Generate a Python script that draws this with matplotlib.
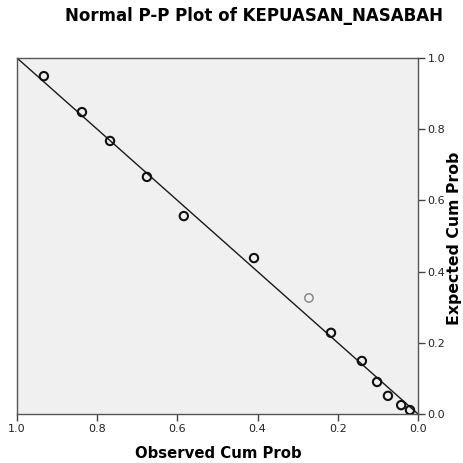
import matplotlib
matplotlib.use("Agg")
import matplotlib.pyplot as plt

observed = [0.933, 0.838, 0.768, 0.676, 0.584, 0.409, 0.272, 0.217, 0.140, 0.102, 0.075, 0.042, 0.020]
expected = [0.949, 0.848, 0.767, 0.666, 0.556, 0.438, 0.326, 0.228, 0.149, 0.090, 0.051, 0.025, 0.011]
light = [False, False, False, False, False, False, True, False, False, False, False, False, False]
ticks = [0.0, 0.2, 0.4, 0.6, 0.8, 1.0]
tick_labels = ["0.0", "0.2", "0.4", "0.6", "0.8", "1.0"]

plt.rcParams['font.family'] = ['DejaVu Sans']

fig = plt.figure(figsize=(4.63, 4.63), dpi=100)
ax = fig.add_axes([17/463, 1-414/463, 401/463, 356/463])
ax.set_facecolor('#f0f0f0')

ax.plot([0, 1], [0, 1], color='#1a1a1a', lw=1.0, zorder=2)
for xo, ye, lt in zip(observed, expected, light):
    ax.scatter([xo], [ye], s=36, facecolors='none',
               edgecolors='#8a8a8a' if lt else '#111111',
               linewidths=1.1 if lt else 1.5, zorder=3)

ax.set_xlim(1, 0)
ax.set_ylim(0, 1)
ax.set_xticks(ticks)
ax.set_xticklabels(tick_labels)
ax.set_yticks(ticks)
ax.set_yticklabels(tick_labels)
ax.yaxis.tick_right()
ax.tick_params(axis='both', direction='out', length=5, width=1, color='#444444',
               labelsize=8, labelcolor='#222222', pad=2)
for sp in ax.spines.values():
    sp.set_color('#555555')
    sp.set_linewidth(1.0)

fig.text(218/463, 1-453/463, 'Observed Cum Prob', ha='center', va='center',
         fontsize=10.7, fontweight='bold')
fig.text(455/463, 1-238/463, 'Expected Cum Prob', ha='center', va='center',
         fontsize=11.3, fontweight='bold', rotation=90)
fig.text(254/463, 1-16/463, 'Normal P-P Plot of KEPUASAN_NASABAH', ha='center', va='center',
         fontsize=12, fontweight='bold')

fig.savefig('out.png', dpi=100)
